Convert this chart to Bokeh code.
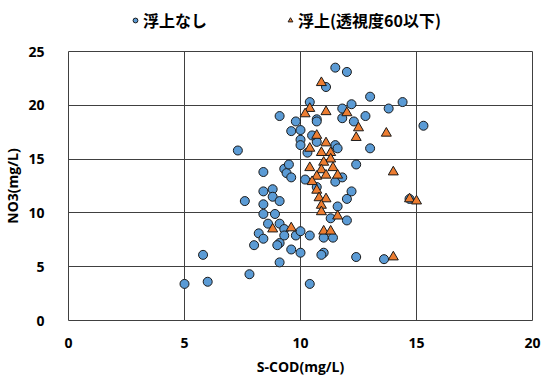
from bokeh.plotting import figure
from bokeh.layouts import column
from bokeh.models import Legend, LegendItem, Range1d, FixedTicker, ColumnDataSource
from bokeh.embed import file_html
from bokeh.resources import INLINE

# Series 1: 浮上なし (blue circles)
none_x = [5.0, 6.0, 5.8, 7.8, 7.3, 7.6, 8.0, 8.2, 8.4, 8.6, 8.4, 8.9, 8.4, 8.4, 8.8, 8.8,
          9.1, 8.4, 9.3, 9.4, 9.5, 9.6, 9.1, 9.8, 9.6, 10.0, 10.0, 10.0, 9.1, 9.3, 9.8, 9.3,
          9.1, 9.0, 9.6, 10.0, 9.1, 10.0, 10.4, 11.0, 11.4, 11.0, 10.9, 12.4, 13.6, 10.4,
          11.3, 12.0, 11.6, 12.0, 12.2, 11.5, 11.8, 10.2, 10.7, 12.4, 13.0, 11.5, 11.6, 10.3,
          10.7, 10.5, 10.7, 10.7, 11.8, 12.3, 12.8, 11.8, 12.2, 13.8, 14.4, 15.3, 13.0, 10.4,
          11.1, 11.5, 12.0, 14.7]
none_y = [3.4, 3.6, 6.1, 4.3, 15.8, 11.1, 7.0, 8.1, 7.6, 9.0, 9.9, 9.9, 10.8, 12.0, 12.2, 11.5,
          11.1, 13.8, 14.1, 13.7, 14.5, 13.3, 19.0, 18.5, 17.6, 17.7, 16.8, 16.3, 9.0, 8.5, 7.9, 7.9,
          7.2, 7.0, 6.6, 6.3, 5.4, 8.3, 7.9, 7.7, 7.7, 6.3, 6.1, 5.9, 5.7, 3.4,
          9.5, 9.3, 10.6, 11.3, 12.0, 12.9, 13.3, 13.1, 12.4, 14.5, 16.0, 16.3, 16.0, 15.6,
          16.6, 17.2, 18.7, 18.5, 18.8, 18.5, 19.0, 19.7, 20.1, 19.7, 20.3, 18.1, 20.8, 20.3,
          21.7, 23.5, 23.1, 11.3]

# Series 2: 浮上(透視度60以下) (orange triangles)
float_x = [10.9, 10.4, 10.2, 11.1, 12.0, 12.5, 12.4, 13.7, 10.7, 11.1, 10.4, 10.9, 11.3, 11.3,
           11.0, 10.4, 10.9, 11.4, 10.7, 11.1, 11.6, 14.0, 10.5, 10.7, 10.8, 11.1, 10.9, 10.9,
           11.6, 8.8, 9.6, 11.0, 11.3, 14.0, 14.7, 15.0]
float_y = [22.1, 19.7, 19.2, 19.4, 19.3, 17.9, 17.0, 17.4, 17.2, 16.5, 16.0, 15.6, 15.6, 15.0,
           14.7, 14.2, 14.0, 14.2, 13.4, 13.5, 13.5, 13.8, 12.9, 12.1, 11.4, 11.3, 10.7, 10.1,
           9.7, 8.5, 8.6, 8.3, 8.3, 5.9, 11.3, 11.1]

series_labels = ["浮上なし", "浮上(透視度60以下)"]
x_ticks = [0, 5, 10, 15, 20]
y_ticks = [0, 5, 10, 15, 20, 25]

BLUE = "#5B9BD5"
ORANGE = "#ED7D31"
EDGE = "#1a1a1a"

p = figure(width=544, height=341, output_backend="svg", toolbar_location=None,
           x_range=Range1d(0, 20), y_range=Range1d(0, 25),
           min_border_left=68, min_border_right=12, min_border_top=11, min_border_bottom=61)
p.background_fill_color = "white"
p.border_fill_color = "white"
p.outline_line_color = "#404040"
p.outline_line_width = 1

p.xaxis.ticker = FixedTicker(ticks=x_ticks)
p.yaxis.ticker = FixedTicker(ticks=y_ticks)
for ax in (p.xaxis[0], p.yaxis[0]):
    ax.axis_line_color = None
    ax.major_tick_line_color = None
    ax.minor_tick_line_color = None
    ax.major_label_text_font = "Open Sans"
    ax.major_label_text_font_style = "bold"
    ax.major_label_text_font_size = "14px"
    ax.major_label_text_color = "black"
    ax.axis_label_text_font = "Open Sans"
    ax.axis_label_text_font_style = "bold"
    ax.axis_label_text_font_size = "14px"
    ax.axis_label_text_color = "black"
p.xaxis.axis_label = "S-COD(mg/L)"
p.yaxis.axis_label = "NO3(mg/L)"
p.xaxis.major_label_standoff = 11
p.yaxis.major_label_standoff = 18
p.xaxis.axis_label_standoff = 6
p.yaxis.axis_label_standoff = 3

p.xgrid.grid_line_color = "#404040"
p.ygrid.grid_line_color = "#404040"
p.xgrid.grid_line_width = 1
p.ygrid.grid_line_width = 1

s1 = ColumnDataSource(dict(x=none_x, y=none_y))
s2 = ColumnDataSource(dict(x=float_x, y=float_y))
p.scatter("x", "y", source=s1, marker="circle", size=9, fill_color=BLUE,
          line_color=EDGE, line_width=1)
p.scatter("x", "y", source=s2, marker="triangle", size=10, fill_color=ORANGE,
          line_color=EDGE, line_width=1)

# Legend strip above the plot; its renderers share the data but fall outside
# this strip's ranges, so only the legend entries are visible.
lf = figure(width=544, height=40, output_backend="svg", toolbar_location=None,
            x_range=Range1d(-2, -1), y_range=Range1d(-2, -1), min_border=0,
            x_axis_location=None, y_axis_location=None)
lf.grid.visible = False
lf.outline_line_color = None
lf.border_fill_color = "white"
d1 = lf.scatter("x", "y", source=s1, marker="circle", size=7, fill_color=BLUE,
                line_color=EDGE, line_width=1)
d2 = lf.scatter("x", "y", source=s2, marker="triangle", size=8, fill_color=ORANGE,
                line_color=EDGE, line_width=1)
legend = Legend(items=[LegendItem(label=series_labels[0], renderers=[d1]),
                       LegendItem(label=series_labels[1], renderers=[d2])],
                orientation="horizontal", location=(57, 4),
                label_text_font="Noto Sans CJK JP", label_text_font_style="bold",
                label_text_font_size="16px", label_text_color="black",
                border_line_alpha=0, background_fill_alpha=0,
                glyph_width=12, glyph_height=14, label_standoff=2, spacing=77, padding=4, margin=0)
lf.add_layout(legend)

layout = column(lf, p, spacing=0)
open("out.html", "w").write(file_html(layout, INLINE))
